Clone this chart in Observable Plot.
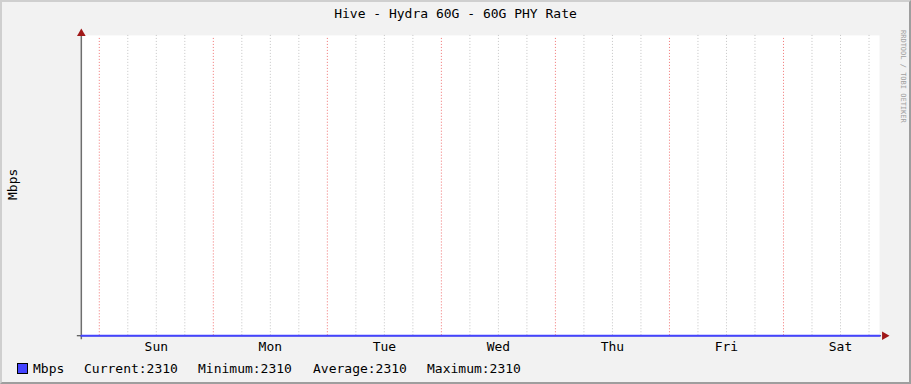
<!DOCTYPE html>
<html><head><meta charset="utf-8">
<script src="https://cdn.jsdelivr.net/npm/d3@7"></script>
<script src="https://cdn.jsdelivr.net/npm/@observablehq/plot@0.6"></script>
<style>
html,body{margin:0;padding:0;background:#f2f2f2;}
#wrap{position:relative;width:911px;height:384px;box-sizing:border-box;background:#f2f2f2;
 border-left:2px solid #cfcfcf;border-top:2px solid #cfcfcf;border-right:2px solid #9e9e9e;border-bottom:2px solid #9e9e9e;overflow:hidden;
 font-family:"DejaVu Sans Mono",monospace;color:#000;}
#chart{position:absolute;left:-2px;top:-2px;}
.t{position:absolute;white-space:pre;font-size:13px;line-height:13px;}
</style></head><body>
<div id="wrap"><div id="chart"></div></div>
<script>
const title = "Hive - Hydra 60G - 60G PHY Rate";
const yLabel = "Mbps";
const credit = "RRDTOOL / TOBI OETIKER";
const seriesName = "Mbps";
const legendItems = ["Current:2310", "Minimum:2310", "Average:2310", "Maximum:2310"];
const dayLabels = ["Sun", "Mon", "Tue", "Wed", "Thu", "Fri", "Sat"];
const rangeStart = new Date("2024-01-06T20:13:12Z");
const rangeEnd = new Date("2024-01-13T20:13:12Z");
const times = ["2024-01-06T20:13:12Z","2024-01-07T20:00:00Z","2024-01-08T20:00:00Z","2024-01-09T20:00:00Z","2024-01-10T20:00:00Z","2024-01-11T20:00:00Z","2024-01-12T20:00:00Z","2024-01-13T20:13:12Z"];
const values = [2310, 2310, 2310, 2310, 2310, 2310, 2310, 2310];
const yMin = 2310, yMax = 2311;

const data = times.map((t, i) => ({t: new Date(t), v: values[i]}));
const minorTicks = d3.utcHour.every(6).range(rangeStart, rangeEnd);
const majorTicks = d3.utcDay.range(rangeStart, rangeEnd);
const noonTicks = majorTicks.map(d => d3.utcHour.offset(d, 12));
const labelMap = new Map(noonTicks.map((d, i) => [+d, dayLabels[i]]));

const lineColor = "#4444ff";
const chart = Plot.plot({
  width: 911, height: 384,
  marginLeft: 81, marginRight: 30, marginTop: 35, marginBottom: 48,
  style: {background: "transparent", fontFamily: "DejaVu Sans Mono, monospace", fontSize: "13px", color: "#000"},
  x: {type: "utc", domain: [rangeStart, rangeEnd]},
  y: {domain: [yMin, yMax], axis: null},
  marks: [
    Plot.frame({fill: "#ffffff", stroke: null}),
    Plot.ruleX(minorTicks.filter(d => +d3.utcDay.floor(d) !== +d), {stroke: "#c4c4c4", strokeDasharray: "1,2", y1: yMin, y2: yMax}),
    Plot.ruleX(majorTicks, {stroke: "#f07070", strokeDasharray: "1,2", y1: yMin, y2: yMax, insetBottom: -3}),
    Plot.axisX({ticks: noonTicks, tickSize: 0, tickPadding: 6, tickFormat: d => labelMap.get(+d) || "", fontSize: 13, label: null}),
    Plot.ruleX([rangeStart], {stroke: "#6e6e6e", strokeWidth: 1.5, insetBottom: -4}),
    Plot.ruleY([yMin], {stroke: "#333333", insetLeft: -4, insetRight: -2}),
    Plot.line(data, {x: "t", y: "v", stroke: lineColor, strokeWidth: 2}),
    Plot.dot([{t: rangeStart, v: yMax}], {x: "t", y: "v", symbol: "triangle", r: 3.2, fill: "#a01818", stroke: null, dy: -2}),
    Plot.dot([{t: rangeEnd, v: yMin}], {x: "t", y: "v", symbol: "triangle", r: 3.2, fill: "#a01818", stroke: null, rotate: 90, dx: 5})
  ]
});
document.getElementById("chart").appendChild(chart);

const wrap = document.getElementById("wrap");
function addText(txt, css) {
  const d = document.createElement("div");
  d.className = "t";
  d.textContent = txt;
  Object.assign(d.style, css);
  wrap.appendChild(d);
  return d;
}
addText(title, {left: "0px", width: "907px", textAlign: "center", top: "5px"});
addText(yLabel, {left: "0px", top: "188px", transform: "translate(0,-50%) rotate(-90deg)", transformOrigin: "center", width: "20px", textAlign: "center"});
addText(credit, {left: "897px", top: "28px", fontSize: "7px", color: "#a0a0a0", writingMode: "vertical-rl", lineHeight: "8px"});
// legend
const sw = document.createElement("div");
Object.assign(sw.style, {position: "absolute", left: "15px", top: "361px", width: "9px", height: "9px", background: lineColor, border: "1px solid #000"});
wrap.appendChild(sw);
addText(seriesName, {left: "31px", top: "360px"});
const lefts = [82, 196, 311, 425];
legendItems.forEach((s, i) => addText(s, {left: lefts[i] + "px", top: "360px"}));
</script>
</body></html>
